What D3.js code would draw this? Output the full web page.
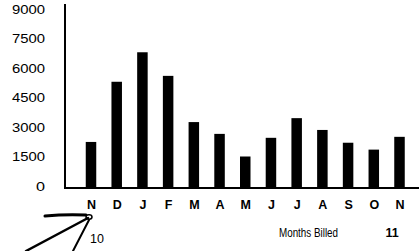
<!DOCTYPE html>
<html><head><meta charset="utf-8">
<script src="https://cdn.jsdelivr.net/npm/d3@7"></script>
<style>html,body{margin:0;padding:0;background:#fff;}svg{display:block;}</style>
</head><body>
<svg id="c" width="419" height="251"></svg>
<script>
const months = ["N","D","J","F","M","A","M","J","J","A","S","O","N"];
const billed = [2240, 5300, 6800, 5600, 3250, 2650, 1500, 2450, 3450, 2850, 2200, 1850, 2500];
const yTicks = [0, 1500, 3000, 4500, 6000, 7500, 9000];
const xTitle = "Months Billed";
const yearLabels = ["10", "11"];

const svg = d3.select("#c");
const font = "'Liberation Sans', Arial, sans-serif";
const idx = months.map((m,i)=>i);

const x = d3.scalePoint().domain(idx).range([91, 399.5]);
const y = d3.scaleLinear().domain([0, 9000]).range([186, 9]);
const bw = 10.5;

// bars
svg.selectAll("rect.bar").data(billed).enter().append("rect")
  .attr("class","bar")
  .attr("x",(d,i)=>x(i)-bw/2)
  .attr("y",d=>y(d))
  .attr("width",bw)
  .attr("height",d=>y(0)-y(d)+1)
  .attr("fill","#000");

// y axis
const yAxis = d3.axisLeft(y).tickValues(yTicks).tickSize(0).tickPadding(0).tickFormat(d3.format("d"));
const gy = svg.append("g").attr("transform","translate(45,0)").call(yAxis);
gy.select(".domain").remove();
gy.selectAll("text").attr("font-family",font).attr("font-size",12.5).attr("fill","#000")
  .attr("textLength",d=>String(d).length===1?9:33).attr("lengthAdjust","spacingAndGlyphs");

// axis lines
svg.append("line").attr("x1",65).attr("x2",65).attr("y1",4).attr("y2",189).attr("stroke","#000").attr("stroke-width",2);
svg.append("line").attr("x1",64).attr("x2",419).attr("y1",188).attr("y2",188).attr("stroke","#000").attr("stroke-width",2);

// x axis labels
const xAxis = d3.axisBottom(x).tickSize(0).tickPadding(0).tickFormat(i=>months[i]);
const gx = svg.append("g").attr("transform","translate(0,200)").call(xAxis);
gx.select(".domain").remove();
gx.selectAll("text").attr("font-family",font).attr("font-size",12.5).attr("font-weight","bold").attr("fill","#000").attr("dy","0.71em");

// title and year labels
svg.append("text").attr("x",279).attr("y",237).attr("font-family",font).attr("font-size",12)
  .attr("textLength",59).attr("lengthAdjust","spacingAndGlyphs").text(xTitle);
svg.append("text").attr("x",x(0)-1).attr("y",243).attr("font-family",font).attr("font-size",12.5).text(yearLabels[0]);
svg.append("text").attr("x",x(12)-14).attr("y",237).attr("font-family",font).attr("font-size",12.5).attr("font-weight","bold").text(yearLabels[1]);

// hand-drawn arrow annotation
const tip = [x(0)-3, 217];
const ann = svg.append("g").attr("fill","none").attr("stroke","#000").attr("stroke-linecap","round");
ann.append("path").attr("d",`M45,216 Q66,214 ${tip[0]-2},215`).attr("stroke-width",3);
ann.append("path").attr("d",`M26,251 L${tip[0]},${tip[1]+1}`).attr("stroke-width",2.5);
ann.append("path").attr("d",`M73,251 L${tip[0]+1},${tip[1]+3}`).attr("stroke-width",2);
ann.append("ellipse").attr("cx",tip[0]+1).attr("cy",tip[1]).attr("rx",3).attr("ry",2.2).attr("stroke-width",1.5);
</script>
</body></html>
